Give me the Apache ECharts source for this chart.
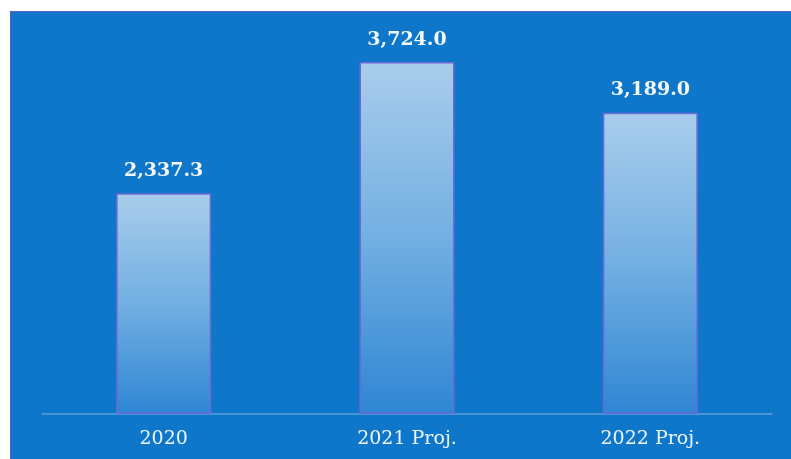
<!DOCTYPE html>
<html><head><meta charset="utf-8">
<script src="https://cdn.jsdelivr.net/npm/echarts@6/dist/echarts.min.js"></script>
<style>
html,body{margin:0;padding:0;background:#fff;width:791px;height:459px;overflow:hidden;}
#c{position:absolute;left:10px;top:11px;width:781px;height:448px;background:#0e77c9;box-shadow:inset 1px 1px 0 #5a5cc8;}
</style></head><body>
<div id="c"></div>
<script>
const categories = ['2020', '2021 Proj.', '2022 Proj.'];
const values = [2337.3, 3724.0, 3189.0];

const chart = echarts.init(document.getElementById('c'));
const fmt = v => v.toLocaleString('en-US', {minimumFractionDigits: 1, maximumFractionDigits: 1});
chart.setOption({
  animation: false,
  grid: {left: 32, right: 19, top: 25, bottom: 45},
  xAxis: {
    type: 'category', data: categories,
    axisLine: {lineStyle: {color: '#5e9fdc', width: 1.5}},
    axisTick: {show: false},
    axisLabel: {color: '#eef4fb', fontFamily: 'DejaVu Serif', fontSize: 19, margin: 16}
  },
  yAxis: {type: 'value', min: 0, max: 4000, show: false, splitLine: {show: false}},
  series: [{
    type: 'bar', data: values, barWidth: 95,
    itemStyle: {
      color: new echarts.graphic.LinearGradient(0, 0, 0, 1, [
        {offset: 0, color: '#a9cdeb'},
        {offset: 0.5, color: '#72afe2'},
        {offset: 1, color: '#2f86d4'}
      ]),
      borderColor: '#6d6ad6', borderWidth: 1.5
    },
    label: {
      show: true, position: 'top', distance: 13,
      color: '#f2f7fc', fontFamily: 'DejaVu Serif', fontWeight: 'bold', fontSize: 19,
      formatter: p => fmt(p.value)
    }
  }]
});
</script></body></html>
